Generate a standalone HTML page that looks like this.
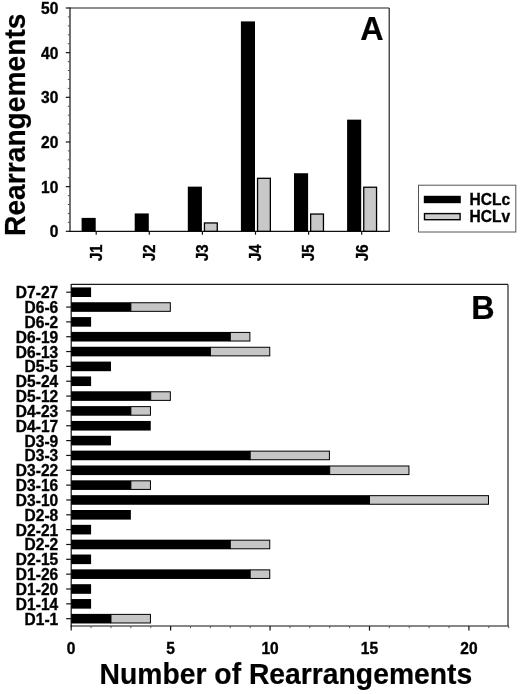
<!DOCTYPE html>
<html><head><meta charset="utf-8"><title>Figure</title>
<style>html,body{margin:0;padding:0;background:#fff}body{width:520px;height:694px;overflow:hidden}</style>
</head><body>
<svg width="520" height="694" viewBox="0 0 520 694" style="display:block">
<rect width="520" height="694" fill="#fff"/>
<g stroke-linecap="butt" fill="none">
<line x1="70.0" y1="8.0" x2="389.2" y2="8.0" stroke="#1c1c1c" stroke-width="1.15"/>
<line x1="389.2" y1="8.0" x2="389.2" y2="231.3" stroke="#1c1c1c" stroke-width="1.15"/>
<line x1="70.0" y1="7.5" x2="70.0" y2="231.9" stroke="#111" stroke-width="1.2"/>
<line x1="69.4" y1="231.3" x2="389.7" y2="231.3" stroke="#111" stroke-width="1.2"/>
<line x1="65.8" y1="231.30" x2="70.0" y2="231.30" stroke="#111" stroke-width="1.2"/>
<line x1="67.8" y1="222.37" x2="70.0" y2="222.37" stroke="#555" stroke-width="1"/>
<line x1="67.8" y1="213.44" x2="70.0" y2="213.44" stroke="#555" stroke-width="1"/>
<line x1="67.8" y1="204.50" x2="70.0" y2="204.50" stroke="#555" stroke-width="1"/>
<line x1="67.8" y1="195.57" x2="70.0" y2="195.57" stroke="#555" stroke-width="1"/>
<line x1="65.8" y1="186.64" x2="70.0" y2="186.64" stroke="#111" stroke-width="1.2"/>
<line x1="67.8" y1="177.71" x2="70.0" y2="177.71" stroke="#555" stroke-width="1"/>
<line x1="67.8" y1="168.78" x2="70.0" y2="168.78" stroke="#555" stroke-width="1"/>
<line x1="67.8" y1="159.84" x2="70.0" y2="159.84" stroke="#555" stroke-width="1"/>
<line x1="67.8" y1="150.91" x2="70.0" y2="150.91" stroke="#555" stroke-width="1"/>
<line x1="65.8" y1="141.98" x2="70.0" y2="141.98" stroke="#111" stroke-width="1.2"/>
<line x1="67.8" y1="133.05" x2="70.0" y2="133.05" stroke="#555" stroke-width="1"/>
<line x1="67.8" y1="124.12" x2="70.0" y2="124.12" stroke="#555" stroke-width="1"/>
<line x1="67.8" y1="115.18" x2="70.0" y2="115.18" stroke="#555" stroke-width="1"/>
<line x1="67.8" y1="106.25" x2="70.0" y2="106.25" stroke="#555" stroke-width="1"/>
<line x1="65.8" y1="97.32" x2="70.0" y2="97.32" stroke="#111" stroke-width="1.2"/>
<line x1="67.8" y1="88.39" x2="70.0" y2="88.39" stroke="#555" stroke-width="1"/>
<line x1="67.8" y1="79.46" x2="70.0" y2="79.46" stroke="#555" stroke-width="1"/>
<line x1="67.8" y1="70.52" x2="70.0" y2="70.52" stroke="#555" stroke-width="1"/>
<line x1="67.8" y1="61.59" x2="70.0" y2="61.59" stroke="#555" stroke-width="1"/>
<line x1="65.8" y1="52.66" x2="70.0" y2="52.66" stroke="#111" stroke-width="1.2"/>
<line x1="67.8" y1="43.73" x2="70.0" y2="43.73" stroke="#555" stroke-width="1"/>
<line x1="67.8" y1="34.80" x2="70.0" y2="34.80" stroke="#555" stroke-width="1"/>
<line x1="67.8" y1="25.86" x2="70.0" y2="25.86" stroke="#555" stroke-width="1"/>
<line x1="67.8" y1="16.93" x2="70.0" y2="16.93" stroke="#555" stroke-width="1"/>
<line x1="65.8" y1="8.00" x2="70.0" y2="8.00" stroke="#111" stroke-width="1.2"/>
<line x1="96.20" y1="231.3" x2="96.20" y2="234.70000000000002" stroke="#111" stroke-width="1.2"/>
<line x1="149.30" y1="231.3" x2="149.30" y2="234.70000000000002" stroke="#111" stroke-width="1.2"/>
<line x1="202.40" y1="231.3" x2="202.40" y2="234.70000000000002" stroke="#111" stroke-width="1.2"/>
<line x1="255.50" y1="231.3" x2="255.50" y2="234.70000000000002" stroke="#111" stroke-width="1.2"/>
<line x1="308.60" y1="231.3" x2="308.60" y2="234.70000000000002" stroke="#111" stroke-width="1.2"/>
<line x1="361.70" y1="231.3" x2="361.70" y2="234.70000000000002" stroke="#111" stroke-width="1.2"/>
</g>
<rect x="81.60" y="217.90" width="14.1" height="13.40" fill="#000"/>
<text font-family="Liberation Sans, Arial, sans-serif" font-weight="bold" font-size="16" text-anchor="middle" stroke="#000" stroke-width="0.35" transform="translate(102.00,252.70) rotate(-90) scale(0.93,1)">J1</text>
<rect x="134.70" y="213.44" width="14.1" height="17.86" fill="#000"/>
<text font-family="Liberation Sans, Arial, sans-serif" font-weight="bold" font-size="16" text-anchor="middle" stroke="#000" stroke-width="0.35" transform="translate(155.10,252.70) rotate(-90) scale(0.93,1)">J2</text>
<rect x="187.80" y="186.64" width="14.1" height="44.66" fill="#000"/>
<rect x="204.45" y="222.97" width="12.8" height="8.33" fill="#c8c8c8" stroke="#000" stroke-width="1.3"/>
<text font-family="Liberation Sans, Arial, sans-serif" font-weight="bold" font-size="16" text-anchor="middle" stroke="#000" stroke-width="0.35" transform="translate(208.20,252.70) rotate(-90) scale(0.93,1)">J3</text>
<rect x="240.90" y="21.40" width="14.1" height="209.90" fill="#000"/>
<rect x="257.55" y="178.31" width="12.8" height="52.99" fill="#c8c8c8" stroke="#000" stroke-width="1.3"/>
<text font-family="Liberation Sans, Arial, sans-serif" font-weight="bold" font-size="16" text-anchor="middle" stroke="#000" stroke-width="0.35" transform="translate(261.30,252.70) rotate(-90) scale(0.93,1)">J4</text>
<rect x="294.00" y="173.24" width="14.1" height="58.06" fill="#000"/>
<rect x="310.65" y="214.04" width="12.8" height="17.26" fill="#c8c8c8" stroke="#000" stroke-width="1.3"/>
<text font-family="Liberation Sans, Arial, sans-serif" font-weight="bold" font-size="16" text-anchor="middle" stroke="#000" stroke-width="0.35" transform="translate(314.40,252.70) rotate(-90) scale(0.93,1)">J5</text>
<rect x="347.10" y="119.65" width="14.1" height="111.65" fill="#000"/>
<rect x="363.75" y="187.24" width="12.8" height="44.06" fill="#c8c8c8" stroke="#000" stroke-width="1.3"/>
<text font-family="Liberation Sans, Arial, sans-serif" font-weight="bold" font-size="16" text-anchor="middle" stroke="#000" stroke-width="0.35" transform="translate(367.50,252.70) rotate(-90) scale(0.93,1)">J6</text>
<text font-family="Liberation Sans, Arial, sans-serif" font-weight="bold" font-size="16" text-anchor="end" stroke="#000" stroke-width="0.35" transform="translate(58.30,237.30) scale(0.972,1)">0</text>
<text font-family="Liberation Sans, Arial, sans-serif" font-weight="bold" font-size="16" text-anchor="end" stroke="#000" stroke-width="0.35" transform="translate(58.30,192.64) scale(0.972,1)">10</text>
<text font-family="Liberation Sans, Arial, sans-serif" font-weight="bold" font-size="16" text-anchor="end" stroke="#000" stroke-width="0.35" transform="translate(58.30,147.98) scale(0.972,1)">20</text>
<text font-family="Liberation Sans, Arial, sans-serif" font-weight="bold" font-size="16" text-anchor="end" stroke="#000" stroke-width="0.35" transform="translate(58.30,103.32) scale(0.972,1)">30</text>
<text font-family="Liberation Sans, Arial, sans-serif" font-weight="bold" font-size="16" text-anchor="end" stroke="#000" stroke-width="0.35" transform="translate(58.30,58.66) scale(0.972,1)">40</text>
<text font-family="Liberation Sans, Arial, sans-serif" font-weight="bold" font-size="16" text-anchor="end" stroke="#000" stroke-width="0.35" transform="translate(58.30,14.00) scale(0.972,1)">50</text>
<text font-family="Liberation Sans, Arial, sans-serif" font-weight="bold" font-size="29.1" text-anchor="middle" stroke="#000" stroke-width="0.2" transform="translate(25.00,124.70) rotate(-90) scale(0.969,1)">Rearrangements</text>
<text font-family="Liberation Sans, Arial, sans-serif" font-weight="bold" font-size="33.3" text-anchor="start" stroke="#000" stroke-width="0.2" transform="translate(360.30,40.10) scale(0.972,1)">A</text>
<rect x="418.5" y="185.2" width="97.3" height="46.8" fill="#fff" stroke="#555" stroke-width="1"/>
<rect x="423.8" y="195.8" width="37" height="7.4" fill="#000"/>
<rect x="424.5" y="213.6" width="35.6" height="6.1" fill="#cccccc" stroke="#000" stroke-width="1.4"/>
<text font-family="Liberation Sans, Arial, sans-serif" font-weight="bold" font-size="16" text-anchor="start" stroke="#000" stroke-width="0.35" transform="translate(469.50,205.30) scale(0.972,1)">HCLc</text>
<text font-family="Liberation Sans, Arial, sans-serif" font-weight="bold" font-size="16" text-anchor="start" stroke="#000" stroke-width="0.35" transform="translate(469.50,222.20) scale(0.972,1)">HCLv</text>
<g fill="none">
<line x1="71.2" y1="284.4" x2="508.0" y2="284.4" stroke="#1c1c1c" stroke-width="1.15"/>
<line x1="508.0" y1="284.4" x2="508.0" y2="626.0" stroke="#1c1c1c" stroke-width="1.15"/>
<line x1="71.2" y1="283.9" x2="71.2" y2="626.6" stroke="#111" stroke-width="1.2"/>
<line x1="70.60000000000001" y1="626.0" x2="508.5" y2="626.0" stroke="#111" stroke-width="1.2"/>
<line x1="66.2" y1="292.20" x2="71.2" y2="292.20" stroke="#111" stroke-width="1.2"/>
<line x1="66.2" y1="307.04" x2="71.2" y2="307.04" stroke="#111" stroke-width="1.2"/>
<line x1="66.2" y1="321.88" x2="71.2" y2="321.88" stroke="#111" stroke-width="1.2"/>
<line x1="66.2" y1="336.72" x2="71.2" y2="336.72" stroke="#111" stroke-width="1.2"/>
<line x1="66.2" y1="351.56" x2="71.2" y2="351.56" stroke="#111" stroke-width="1.2"/>
<line x1="66.2" y1="366.40" x2="71.2" y2="366.40" stroke="#111" stroke-width="1.2"/>
<line x1="66.2" y1="381.24" x2="71.2" y2="381.24" stroke="#111" stroke-width="1.2"/>
<line x1="66.2" y1="396.08" x2="71.2" y2="396.08" stroke="#111" stroke-width="1.2"/>
<line x1="66.2" y1="410.92" x2="71.2" y2="410.92" stroke="#111" stroke-width="1.2"/>
<line x1="66.2" y1="425.76" x2="71.2" y2="425.76" stroke="#111" stroke-width="1.2"/>
<line x1="66.2" y1="440.60" x2="71.2" y2="440.60" stroke="#111" stroke-width="1.2"/>
<line x1="66.2" y1="455.44" x2="71.2" y2="455.44" stroke="#111" stroke-width="1.2"/>
<line x1="66.2" y1="470.28" x2="71.2" y2="470.28" stroke="#111" stroke-width="1.2"/>
<line x1="66.2" y1="485.12" x2="71.2" y2="485.12" stroke="#111" stroke-width="1.2"/>
<line x1="66.2" y1="499.96" x2="71.2" y2="499.96" stroke="#111" stroke-width="1.2"/>
<line x1="66.2" y1="514.80" x2="71.2" y2="514.80" stroke="#111" stroke-width="1.2"/>
<line x1="66.2" y1="529.64" x2="71.2" y2="529.64" stroke="#111" stroke-width="1.2"/>
<line x1="66.2" y1="544.48" x2="71.2" y2="544.48" stroke="#111" stroke-width="1.2"/>
<line x1="66.2" y1="559.32" x2="71.2" y2="559.32" stroke="#111" stroke-width="1.2"/>
<line x1="66.2" y1="574.16" x2="71.2" y2="574.16" stroke="#111" stroke-width="1.2"/>
<line x1="66.2" y1="589.00" x2="71.2" y2="589.00" stroke="#111" stroke-width="1.2"/>
<line x1="66.2" y1="603.84" x2="71.2" y2="603.84" stroke="#111" stroke-width="1.2"/>
<line x1="66.2" y1="618.68" x2="71.2" y2="618.68" stroke="#111" stroke-width="1.2"/>
<line x1="71.20" y1="626.0" x2="71.20" y2="630.6" stroke="#111" stroke-width="1.2"/>
<line x1="91.09" y1="626.0" x2="91.09" y2="628.2" stroke="#555" stroke-width="1"/>
<line x1="110.97" y1="626.0" x2="110.97" y2="628.2" stroke="#555" stroke-width="1"/>
<line x1="130.86" y1="626.0" x2="130.86" y2="628.2" stroke="#555" stroke-width="1"/>
<line x1="150.74" y1="626.0" x2="150.74" y2="628.2" stroke="#555" stroke-width="1"/>
<line x1="170.62" y1="626.0" x2="170.62" y2="630.6" stroke="#111" stroke-width="1.2"/>
<line x1="190.51" y1="626.0" x2="190.51" y2="628.2" stroke="#555" stroke-width="1"/>
<line x1="210.40" y1="626.0" x2="210.40" y2="628.2" stroke="#555" stroke-width="1"/>
<line x1="230.28" y1="626.0" x2="230.28" y2="628.2" stroke="#555" stroke-width="1"/>
<line x1="250.17" y1="626.0" x2="250.17" y2="628.2" stroke="#555" stroke-width="1"/>
<line x1="270.05" y1="626.0" x2="270.05" y2="630.6" stroke="#111" stroke-width="1.2"/>
<line x1="289.94" y1="626.0" x2="289.94" y2="628.2" stroke="#555" stroke-width="1"/>
<line x1="309.82" y1="626.0" x2="309.82" y2="628.2" stroke="#555" stroke-width="1"/>
<line x1="329.70" y1="626.0" x2="329.70" y2="628.2" stroke="#555" stroke-width="1"/>
<line x1="349.59" y1="626.0" x2="349.59" y2="628.2" stroke="#555" stroke-width="1"/>
<line x1="369.48" y1="626.0" x2="369.48" y2="630.6" stroke="#111" stroke-width="1.2"/>
<line x1="389.36" y1="626.0" x2="389.36" y2="628.2" stroke="#555" stroke-width="1"/>
<line x1="409.25" y1="626.0" x2="409.25" y2="628.2" stroke="#555" stroke-width="1"/>
<line x1="429.13" y1="626.0" x2="429.13" y2="628.2" stroke="#555" stroke-width="1"/>
<line x1="449.02" y1="626.0" x2="449.02" y2="628.2" stroke="#555" stroke-width="1"/>
<line x1="468.90" y1="626.0" x2="468.90" y2="630.6" stroke="#111" stroke-width="1.2"/>
<line x1="488.79" y1="626.0" x2="488.79" y2="628.2" stroke="#555" stroke-width="1"/>
<line x1="508.67" y1="626.0" x2="508.67" y2="628.2" stroke="#555" stroke-width="1"/>
</g>
<rect x="71.20" y="287.40" width="19.89" height="9.60" fill="#000"/>
<text font-family="Liberation Sans, Arial, sans-serif" font-weight="bold" font-size="16" text-anchor="end" stroke="#000" stroke-width="0.35" transform="translate(58.20,298.20) scale(0.972,1)">D7-27</text>
<rect x="130.86" y="302.74" width="39.47" height="8.60" fill="#c6c6c6" stroke="#000" stroke-width="1"/>
<rect x="71.20" y="302.24" width="59.66" height="9.60" fill="#000"/>
<text font-family="Liberation Sans, Arial, sans-serif" font-weight="bold" font-size="16" text-anchor="end" stroke="#000" stroke-width="0.35" transform="translate(58.20,313.04) scale(0.972,1)">D6-6</text>
<rect x="71.20" y="317.08" width="19.89" height="9.60" fill="#000"/>
<text font-family="Liberation Sans, Arial, sans-serif" font-weight="bold" font-size="16" text-anchor="end" stroke="#000" stroke-width="0.35" transform="translate(58.20,327.88) scale(0.972,1)">D6-2</text>
<rect x="230.28" y="332.42" width="19.59" height="8.60" fill="#c6c6c6" stroke="#000" stroke-width="1"/>
<rect x="71.20" y="331.92" width="159.08" height="9.60" fill="#000"/>
<text font-family="Liberation Sans, Arial, sans-serif" font-weight="bold" font-size="16" text-anchor="end" stroke="#000" stroke-width="0.35" transform="translate(58.20,342.72) scale(0.972,1)">D6-19</text>
<rect x="210.40" y="347.26" width="59.36" height="8.60" fill="#c6c6c6" stroke="#000" stroke-width="1"/>
<rect x="71.20" y="346.76" width="139.20" height="9.60" fill="#000"/>
<text font-family="Liberation Sans, Arial, sans-serif" font-weight="bold" font-size="16" text-anchor="end" stroke="#000" stroke-width="0.35" transform="translate(58.20,357.56) scale(0.972,1)">D6-13</text>
<rect x="71.20" y="361.60" width="39.77" height="9.60" fill="#000"/>
<text font-family="Liberation Sans, Arial, sans-serif" font-weight="bold" font-size="16" text-anchor="end" stroke="#000" stroke-width="0.35" transform="translate(58.20,372.40) scale(0.972,1)">D5-5</text>
<rect x="71.20" y="376.44" width="19.89" height="9.60" fill="#000"/>
<text font-family="Liberation Sans, Arial, sans-serif" font-weight="bold" font-size="16" text-anchor="end" stroke="#000" stroke-width="0.35" transform="translate(58.20,387.24) scale(0.972,1)">D5-24</text>
<rect x="150.74" y="391.78" width="19.59" height="8.60" fill="#c6c6c6" stroke="#000" stroke-width="1"/>
<rect x="71.20" y="391.28" width="79.54" height="9.60" fill="#000"/>
<text font-family="Liberation Sans, Arial, sans-serif" font-weight="bold" font-size="16" text-anchor="end" stroke="#000" stroke-width="0.35" transform="translate(58.20,402.08) scale(0.972,1)">D5-12</text>
<rect x="130.86" y="406.62" width="19.59" height="8.60" fill="#c6c6c6" stroke="#000" stroke-width="1"/>
<rect x="71.20" y="406.12" width="59.66" height="9.60" fill="#000"/>
<text font-family="Liberation Sans, Arial, sans-serif" font-weight="bold" font-size="16" text-anchor="end" stroke="#000" stroke-width="0.35" transform="translate(58.20,416.92) scale(0.972,1)">D4-23</text>
<rect x="71.20" y="420.96" width="79.54" height="9.60" fill="#000"/>
<text font-family="Liberation Sans, Arial, sans-serif" font-weight="bold" font-size="16" text-anchor="end" stroke="#000" stroke-width="0.35" transform="translate(58.20,431.76) scale(0.972,1)">D4-17</text>
<rect x="71.20" y="435.80" width="39.77" height="9.60" fill="#000"/>
<text font-family="Liberation Sans, Arial, sans-serif" font-weight="bold" font-size="16" text-anchor="end" stroke="#000" stroke-width="0.35" transform="translate(58.20,446.60) scale(0.972,1)">D3-9</text>
<rect x="250.17" y="451.14" width="79.24" height="8.60" fill="#c6c6c6" stroke="#000" stroke-width="1"/>
<rect x="71.20" y="450.64" width="178.97" height="9.60" fill="#000"/>
<text font-family="Liberation Sans, Arial, sans-serif" font-weight="bold" font-size="16" text-anchor="end" stroke="#000" stroke-width="0.35" transform="translate(58.20,461.44) scale(0.972,1)">D3-3</text>
<rect x="329.70" y="465.98" width="79.24" height="8.60" fill="#c6c6c6" stroke="#000" stroke-width="1"/>
<rect x="71.20" y="465.48" width="258.50" height="9.60" fill="#000"/>
<text font-family="Liberation Sans, Arial, sans-serif" font-weight="bold" font-size="16" text-anchor="end" stroke="#000" stroke-width="0.35" transform="translate(58.20,476.28) scale(0.972,1)">D3-22</text>
<rect x="130.86" y="480.82" width="19.59" height="8.60" fill="#c6c6c6" stroke="#000" stroke-width="1"/>
<rect x="71.20" y="480.32" width="59.66" height="9.60" fill="#000"/>
<text font-family="Liberation Sans, Arial, sans-serif" font-weight="bold" font-size="16" text-anchor="end" stroke="#000" stroke-width="0.35" transform="translate(58.20,491.12) scale(0.972,1)">D3-16</text>
<rect x="369.48" y="495.66" width="119.01" height="8.60" fill="#c6c6c6" stroke="#000" stroke-width="1"/>
<rect x="71.20" y="495.16" width="298.28" height="9.60" fill="#000"/>
<text font-family="Liberation Sans, Arial, sans-serif" font-weight="bold" font-size="16" text-anchor="end" stroke="#000" stroke-width="0.35" transform="translate(58.20,505.96) scale(0.972,1)">D3-10</text>
<rect x="71.20" y="510.00" width="59.66" height="9.60" fill="#000"/>
<text font-family="Liberation Sans, Arial, sans-serif" font-weight="bold" font-size="16" text-anchor="end" stroke="#000" stroke-width="0.35" transform="translate(58.20,520.80) scale(0.972,1)">D2-8</text>
<rect x="71.20" y="524.84" width="19.89" height="9.60" fill="#000"/>
<text font-family="Liberation Sans, Arial, sans-serif" font-weight="bold" font-size="16" text-anchor="end" stroke="#000" stroke-width="0.35" transform="translate(58.20,535.64) scale(0.972,1)">D2-21</text>
<rect x="230.28" y="540.18" width="39.47" height="8.60" fill="#c6c6c6" stroke="#000" stroke-width="1"/>
<rect x="71.20" y="539.68" width="159.08" height="9.60" fill="#000"/>
<text font-family="Liberation Sans, Arial, sans-serif" font-weight="bold" font-size="16" text-anchor="end" stroke="#000" stroke-width="0.35" transform="translate(58.20,550.48) scale(0.972,1)">D2-2</text>
<rect x="71.20" y="554.52" width="19.89" height="9.60" fill="#000"/>
<text font-family="Liberation Sans, Arial, sans-serif" font-weight="bold" font-size="16" text-anchor="end" stroke="#000" stroke-width="0.35" transform="translate(58.20,565.32) scale(0.972,1)">D2-15</text>
<rect x="250.17" y="569.86" width="19.59" height="8.60" fill="#c6c6c6" stroke="#000" stroke-width="1"/>
<rect x="71.20" y="569.36" width="178.97" height="9.60" fill="#000"/>
<text font-family="Liberation Sans, Arial, sans-serif" font-weight="bold" font-size="16" text-anchor="end" stroke="#000" stroke-width="0.35" transform="translate(58.20,580.16) scale(0.972,1)">D1-26</text>
<rect x="71.20" y="584.20" width="19.89" height="9.60" fill="#000"/>
<text font-family="Liberation Sans, Arial, sans-serif" font-weight="bold" font-size="16" text-anchor="end" stroke="#000" stroke-width="0.35" transform="translate(58.20,595.00) scale(0.972,1)">D1-20</text>
<rect x="71.20" y="599.04" width="19.89" height="9.60" fill="#000"/>
<text font-family="Liberation Sans, Arial, sans-serif" font-weight="bold" font-size="16" text-anchor="end" stroke="#000" stroke-width="0.35" transform="translate(58.20,609.84) scale(0.972,1)">D1-14</text>
<rect x="110.97" y="614.38" width="39.47" height="8.60" fill="#c6c6c6" stroke="#000" stroke-width="1"/>
<rect x="71.20" y="613.88" width="39.77" height="9.60" fill="#000"/>
<text font-family="Liberation Sans, Arial, sans-serif" font-weight="bold" font-size="16" text-anchor="end" stroke="#000" stroke-width="0.35" transform="translate(58.20,624.68) scale(0.972,1)">D1-1</text>
<text font-family="Liberation Sans, Arial, sans-serif" font-weight="bold" font-size="16" text-anchor="middle" stroke="#000" stroke-width="0.35" transform="translate(71.20,654.20) scale(0.972,1)">0</text>
<text font-family="Liberation Sans, Arial, sans-serif" font-weight="bold" font-size="16" text-anchor="middle" stroke="#000" stroke-width="0.35" transform="translate(170.62,654.20) scale(0.972,1)">5</text>
<text font-family="Liberation Sans, Arial, sans-serif" font-weight="bold" font-size="16" text-anchor="middle" stroke="#000" stroke-width="0.35" transform="translate(270.05,654.20) scale(0.972,1)">10</text>
<text font-family="Liberation Sans, Arial, sans-serif" font-weight="bold" font-size="16" text-anchor="middle" stroke="#000" stroke-width="0.35" transform="translate(369.48,654.20) scale(0.972,1)">15</text>
<text font-family="Liberation Sans, Arial, sans-serif" font-weight="bold" font-size="16" text-anchor="middle" stroke="#000" stroke-width="0.35" transform="translate(468.90,654.20) scale(0.972,1)">20</text>
<text font-family="Liberation Sans, Arial, sans-serif" font-weight="bold" font-size="29.1" text-anchor="start" stroke="#000" stroke-width="0.2" transform="translate(99.60,683.80) scale(0.973,1)">Number of Rearrangements</text>
<text font-family="Liberation Sans, Arial, sans-serif" font-weight="bold" font-size="33.3" text-anchor="start" stroke="#000" stroke-width="0.2" transform="translate(471.20,319.20) scale(0.972,1)">B</text>
</svg>
</body></html>
